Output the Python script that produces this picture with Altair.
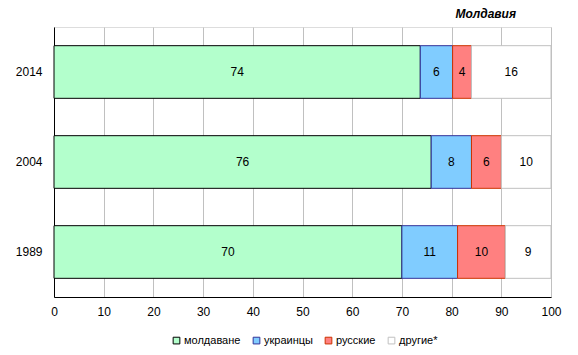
import altair as alt
import pandas as pd

years = ["2014", "2004", "1989"]
groups = ["молдаване", "украинцы", "русские", "другие*"]
# shares (%) per year, in order of groups
values = {
    "2014": [73.7, 6.5, 3.8, 16.0],
    "2004": [75.9, 8.1, 6.0, 10.0],
    "1989": [70.0, 11.2, 9.6, 9.2],
}
labels = {
    "2014": ["74", "6", "4", "16"],
    "2004": ["76", "8", "6", "10"],
    "1989": ["70", "11", "10", "9"],
}
fills = ["#b3ffcc", "#80ccff", "#ff8080", "#ffffff"]
strokes = ["#000000", "#333399", "#cc3300", "#c0c0c0"]
title_text = "Молдавия"

rows = []
for y in years:
    for i, g in enumerate(groups):
        rows.append({"year": y, "group": g, "order": i,
                     "value": values[y][i], "label": labels[y][i]})
df = pd.DataFrame(rows)

FONT = "Liberation Sans"

legend_kw = dict(title=None, orient="none", direction="horizontal",
                 legendX=117, legendY=308, symbolType="square",
                 symbolSize=45, symbolStrokeWidth=1,
                 labelFontSize=11, labelFont=FONT,
                 labelColor="#000000", labelOffset=2,
                 columnPadding=10, symbolOpacity=1)

base = alt.Chart(df).encode(
    y=alt.Y("year:N", sort=years,
            scale=alt.Scale(paddingInner=0.415, paddingOuter=0.2075),
            axis=alt.Axis(title=None, ticks=False, labelPadding=12,
                          labelFontSize=12, labelColor="#000000", labelFont=FONT,
                          domainColor="#000000", grid=False)),
)

bars = base.mark_bar(strokeWidth=1).encode(
    x=alt.X("value:Q", stack="zero",
            scale=alt.Scale(domain=[0, 100], nice=False),
            axis=alt.Axis(title=None, values=list(range(0, 101, 10)), ticks=False,
                          labelPadding=9, labelFontSize=12, labelColor="#000000",
                          labelFont=FONT, domainColor="#000000", labelFlush=False,
                          grid=True, gridColor="#c0c0c0", gridOpacity=1)),
    fill=alt.Fill("group:N", scale=alt.Scale(domain=groups, range=fills),
                  legend=alt.Legend(**legend_kw)),
    stroke=alt.Stroke("group:N", scale=alt.Scale(domain=groups, range=strokes),
                      legend=alt.Legend(**legend_kw)),
    order=alt.Order("order:Q"),
)

text = base.mark_text(fontSize=12, font=FONT, color="#000000").encode(
    x=alt.X("mid:Q"),
    text="label:N",
).transform_stack(
    stack="value", groupby=["year"], as_=["v0", "v1"],
    sort=[alt.SortField("order", order="ascending")]
).transform_calculate(mid="(datum.v0 + datum.v1) / 2")

chart = alt.layer(bars, text).properties(
    width=497, height=270,
    title=alt.TitleParams(title_text, anchor="end", dx=-45, offset=6, fontSize=12,
                          fontStyle="italic", fontWeight="bold", font=FONT,
                          color="#000000"),
    autosize=alt.AutoSizeParams(type="none"),
    padding={"left": 46, "top": 19, "right": 18, "bottom": 52},
).configure_view(stroke="#c0c0c0", strokeWidth=1).configure(background="#ffffff")

chart.save("out.html", embed_options={"renderer": "svg", "actions": False})
